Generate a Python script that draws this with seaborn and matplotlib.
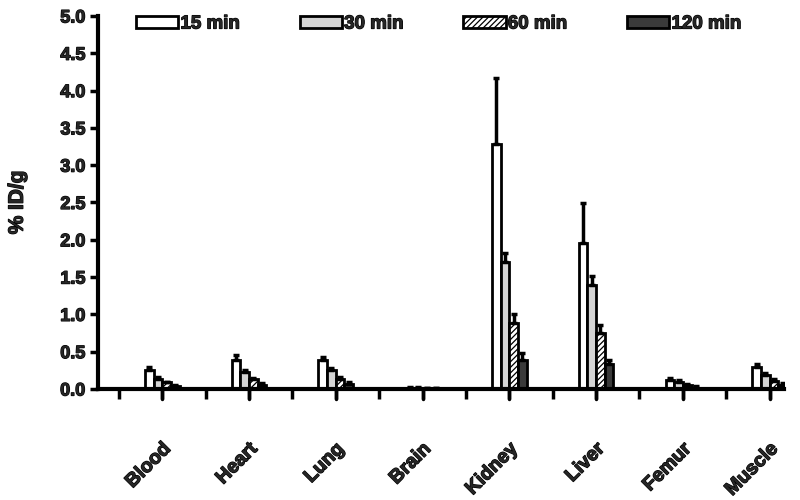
import matplotlib
matplotlib.use("Agg")
import matplotlib.pyplot as plt
import matplotlib.patheffects as pe
import seaborn as sns
import pandas as pd
import numpy as np

organs = ["Blood", "Heart", "Lung", "Brain", "Kidney", "Liver", "Femur", "Muscle"]
times = ["15 min", "30 min", "60 min", "120 min"]

v15 = [0.25, 0.39, 0.39, 0.02, 3.29, 1.96, 0.12, 0.30]
v30 = [0.14, 0.23, 0.25, 0.02, 1.70, 1.39, 0.10, 0.19]
v60 = [0.09, 0.13, 0.13, 0.01, 0.89, 0.75, 0.05, 0.11]
v120 = [0.04, 0.06, 0.07, 0.01, 0.39, 0.34, 0.02, 0.06]

e15 = [0.04, 0.07, 0.04, 0.005, 0.88, 0.53, 0.03, 0.03]
e30 = [0.02, 0.02, 0.03, 0.005, 0.12, 0.12, 0.02, 0.02]
e60 = [0.01, 0.02, 0.03, 0.003, 0.11, 0.11, 0.02, 0.02]
e120 = [0.01, 0.02, 0.02, 0.003, 0.09, 0.05, 0.02, 0.02]

yticks = [0.0, 0.5, 1.0, 1.5, 2.0, 2.5, 3.0, 3.5, 4.0, 4.5, 5.0]

values = [v15, v30, v60, v120]
errors = [e15, e30, e60, e120]

rows = []
for t, vals in zip(times, values):
    for o, v in zip(organs, vals):
        rows.append({"organ": o, "time": t, "value": v})
df = pd.DataFrame(rows)

sns.set_style("ticks")
plt.rcParams["font.family"] = ["Liberation Sans", "DejaVu Sans"]
plt.rcParams["font.weight"] = "bold"
plt.rcParams["hatch.linewidth"] = 0.9
plt.rcParams["hatch.color"] = "#555555"

heavy = [pe.withStroke(linewidth=0.9, foreground="black")]

fig = plt.figure(figsize=(8, 5), dpi=100)
ax = fig.add_axes([0.1225, 0.222, 0.858, 0.746])

faces = ["white", "#d4d4d4", "white", "#3a3a3a"]
hatches = [None, None, "//////", None]

sns.barplot(data=df, x="organ", y="value", hue="time", order=organs,
            hue_order=times, palette=faces, width=0.4, gap=0,
            errorbar=None, edgecolor="black", linewidth=2.0, ax=ax,
            saturation=1)

for cont, errs, h in zip(ax.containers, errors, hatches):
    xs = [b.get_x() + b.get_width() / 2 for b in cont]
    ys = [b.get_height() for b in cont]
    if h:
        for b in cont:
            b.set_hatch(h)
    ax.errorbar(xs, ys, yerr=[np.zeros(len(errs)), errs], fmt="none",
                ecolor="black", elinewidth=2.5, capsize=2.5, capthick=2.5)

ax.set_ylim(0, 5.0)
ax.set_xlim(-0.74, 7.17)
ax.set_yticks(yticks)
ax.set_yticklabels([f"{t:.1f}" for t in yticks], fontsize=13, fontweight="bold")
ax.set_xticks(range(len(organs)))
ax.set_xticklabels(organs, rotation=45, ha="right", rotation_mode="anchor",
                   fontsize=14, fontweight="bold")
ax.set_xticks(np.arange(-0.5, len(organs) - 0.5, 1.0), minor=True)
ax.tick_params(axis="x", which="both", length=7, width=2.5, color="black")
ax.tick_params(axis="x", which="major", pad=30)
ax.tick_params(axis="y", length=6, width=2.5, pad=3, color="black")
for s in ["left", "bottom"]:
    ax.spines[s].set_linewidth(3)
    ax.spines[s].set_color("black")
sns.despine(ax=ax)
ax.set_xlabel("")
ax.set_ylabel("% ID/g", fontsize=15, fontweight="bold", labelpad=24)

# extra tick marks under each category group (x in data units, y in axes units)
ax.vlines(range(len(organs)), -0.026, 0, transform=ax.get_xaxis_transform(),
          colors="black", linewidth=2.5, clip_on=False, zorder=6,
          capstyle="round")

for t in ax.get_xticklabels() + ax.get_yticklabels() + [ax.yaxis.label]:
    t.set_path_effects(heavy)

handles, lbls = ax.get_legend_handles_labels()
ax.legend_.remove()
for hd, h in zip(handles, hatches):
    hd.set_linewidth(2.0)
    if h:
        hd.set_hatch(h)
leg = ax.legend(handles, lbls, loc="center left", bbox_to_anchor=(0.17, 0.952),
                bbox_transform=fig.transFigure,
                ncol=4, frameon=False, handlelength=2.25,
                handleheight=0.65, handletextpad=0.12, columnspacing=3.2,
                borderpad=0, borderaxespad=0,
                prop={"weight": "bold", "size": 13.5})
for t in leg.get_texts():
    t.set_path_effects(heavy)

fig.savefig("out.png", dpi=100)
